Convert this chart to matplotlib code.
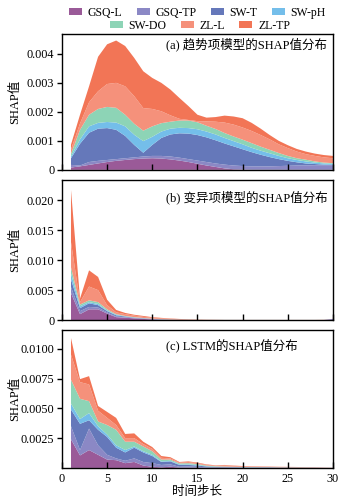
import numpy as np
import matplotlib.pyplot as plt
from matplotlib.patches import Patch

plt.rcParams['font.family'] = ['Liberation Serif', 'Noto Sans CJK SC']
plt.rcParams['axes.unicode_minus'] = False

# ---------------------------------------------------------------------------
# Data: mean |SHAP| per feature and time step
# ---------------------------------------------------------------------------
steps = np.arange(1, 31)
features = ["GSQ-L", "GSQ-TP", "SW-T", "SW-pH", "SW-DO", "ZL-L", "ZL-TP"]
colors = ["#9A5A98", "#8B88C5", "#6578BA", "#74BEEA", "#8DD4B6", "#F5917B", "#F27556"]

# (a) trend-term model, units of 1e-4
a_gsq_l = [0.8, 1.2, 1.7, 2.2, 2.7, 3.1, 3.4, 3.7, 3.9, 4.0, 3.9, 3.6, 3.2, 2.7, 2.1,
           1.5, 1.0, 0.5, 0.2, 0.1, 0.05, 0.05, 0.05, 0.05, 0.05, 0.05, 0.05, 0.05, 0.05, 0.05]
a_gsq_tp = [0.9, 0.3, 1.0, 0.9, 0.7, 0.6, 0.6, 0.6, 0.7, 0.8, 0.9, 1.0, 1.0, 1.0, 1.1,
            1.2, 1.2, 1.3, 1.3, 1.2, 1.15, 1.15, 1.15, 1.25, 1.35, 1.45, 1.45, 1.55, 1.55, 1.55]
a_sw_t = [2.3, 7.5, 10.1, 11.1, 11.0, 10.1, 7.7, 4.3, 1.3, 3.8, 6.2, 7.6, 8.4, 8.8, 8.8,
          8.5, 8.0, 7.3, 6.6, 5.8, 4.9, 4.0, 3.2, 2.4, 1.7, 1.1, 0.7, 0.4, 0.2, 0.1]
a_sw_ph = [0.6, 1.5, 2.2, 2.0, 2.1, 2.5, 3.3, 3.5, 4.0, 2.8, 2.2, 2.0, 1.9, 1.9, 2.0,
           2.0, 2.0, 1.9, 1.8, 1.7, 1.5, 1.4, 1.3, 1.1, 0.9, 0.8, 0.7, 0.5, 0.4, 0.4]
a_sw_do = [0.9, 3.3, 4.0, 4.8, 5.2, 5.1, 4.0, 3.8, 3.6, 3.6, 2.9, 2.4, 2.5, 2.6, 2.4,
           2.0, 1.9, 1.7, 1.6, 1.6, 1.6, 1.4, 1.2, 1.0, 0.8, 0.6, 0.6, 0.4, 0.3, 0.2]
a_zl_l = [1.5, 2.2, 4.3, 6.1, 7.9, 8.6, 9.8, 9.5, 7.8, 6.0, 4.1, 2.2, 0.6, 0.2, 0.4,
          1.5, 2.5, 3.6, 4.1, 4.2, 4.2, 4.0, 3.6, 3.0, 2.7, 2.3, 1.9, 1.9, 1.8, 1.7]
a_zl_tp = [1.7, 3.0, 5.5, 11.9, 13.7, 14.6, 13.9, 13.2, 12.7, 10.7, 9.8, 8.9, 7.2, 4.8, 2.2,
           1.3, 1.6, 2.4, 2.8, 3.2, 2.8, 2.2, 1.5, 1.2, 1.0, 0.9, 0.9, 0.8, 0.8, 0.8]

# (b) variation-term model, units of 1e-3
b_gsq_l = [4.5, 1.0, 1.8, 1.8, 1.1, 0.5, 0.4, 0.3, 0.2, 0.12, 0.08, 0.05, 0.03, 0.02, 0.01,
           0.01, 0.01, 0.0, 0.0, 0.0, 0.0, 0.0, 0.0, 0.0, 0.0, 0.0, 0.0, 0.0, 0.0, 0.0]
b_gsq_tp = [1.0, 0.5, 0.4, 0.3, 0.2, 0.1, 0.1, 0.05, 0.05, 0.03, 0.02, 0.02, 0.02, 0.01, 0.01,
            0.01, 0.01, 0.01, 0.01, 0.01, 0.01, 0.01, 0.01, 0.01, 0.01, 0.01, 0.01, 0.01, 0.03, 0.2]
b_sw_t = [1.3, 0.5, 0.6, 0.4, 0.2, 0.2, 0.1, 0.05, 0.05, 0.05, 0.03, 0.02, 0.01, 0.01, 0.01,
          0.0, 0.0, 0.0, 0.0, 0.0, 0.0, 0.0, 0.0, 0.0, 0.0, 0.0, 0.0, 0.0, 0.0, 0.0]
b_sw_ph = [1.0, 0.3, 0.2, 0.2, 0.1, 0.1, 0.05, 0.05, 0.03, 0.02, 0.02, 0.01, 0.01, 0.01, 0.0,
           0.0, 0.0, 0.0, 0.0, 0.0, 0.0, 0.0, 0.0, 0.0, 0.0, 0.0, 0.0, 0.0, 0.0, 0.0]
b_sw_do = [1.0, 0.3, 0.3, 0.3, 0.2, 0.1, 0.05, 0.05, 0.03, 0.03, 0.02, 0.02, 0.01, 0.01, 0.01,
           0.0, 0.0, 0.0, 0.0, 0.0, 0.0, 0.0, 0.0, 0.0, 0.0, 0.0, 0.0, 0.0, 0.0, 0.0]
b_zl_l = [4.2, 0.4, 2.3, 2.0, 0.7, 0.3, 0.3, 0.25, 0.19, 0.15, 0.13, 0.1, 0.07, 0.04, 0.03,
          0.02, 0.02, 0.01, 0.01, 0.01, 0.01, 0.01, 0.01, 0.01, 0.01, 0.01, 0.01, 0.01, 0.01, 0.01]
b_zl_tp = [8.7, 0.6, 2.7, 2.2, 0.9, 0.4, 0.2, 0.15, 0.15, 0.1, 0.08, 0.06, 0.05, 0.04, 0.03,
           0.02, 0.01, 0.01, 0.01, 0.01, 0.01, 0.01, 0.01, 0.01, 0.01, 0.01, 0.01, 0.01, 0.01, 0.01]

# (c) LSTM, units of 1e-3
c_gsq_l = [2.4, 1.05, 1.5, 1.1, 0.7, 0.65, 0.4, 0.5, 0.2, 0.1, 0.05, 0.1, 0.03, 0.03, 0.02,
           0.01, 0.01, 0.01, 0.01, 0.01, 0.01, 0.01, 0.01, 0.0, 0.0, 0.0, 0.0, 0.0, 0.0, 0.0]
c_gsq_tp = [1.1, 0.45, 1.8, 0.8, 0.4, 0.15, 0.2, 0.3, 0.3, 0.3, 0.2, 0.2, 0.07, 0.09, 0.08,
            0.04, 0.03, 0.02, 0.02, 0.02, 0.02, 0.02, 0.02, 0.02, 0.02, 0.01, 0.01, 0.01, 0.01, 0.01]
c_sw_t = [1.4, 2.2, 0.7, 1.3, 1.5, 0.9, 0.7, 0.9, 0.8, 0.6, 0.25, 0.25, 0.15, 0.13, 0.1,
          0.07, 0.04, 0.04, 0.03, 0.02, 0.02, 0.02, 0.02, 0.01, 0.01, 0.01, 0.01, 0.01, 0.0, 0.0]
c_sw_ph = [0.5, 0.4, 0.6, 0.3, 0.2, 0.2, 0.2, 0.1, 0.1, 0.1, 0.05, 0.05, 0.05, 0.05, 0.05,
           0.03, 0.02, 0.02, 0.02, 0.01, 0.01, 0.01, 0.01, 0.01, 0.01, 0.01, 0.0, 0.0, 0.0, 0.0]
c_sw_do = [2.0, 1.7, 1.0, 0.4, 0.8, 1.3, 0.7, 0.4, 0.4, 0.3, 0.15, 0.1, 0.08, 0.1, 0.07,
           0.05, 0.04, 0.03, 0.02, 0.02, 0.02, 0.01, 0.01, 0.01, 0.01, 0.01, 0.01, 0.0, 0.0, 0.0]
c_zl_l = [2.1, 1.4, 1.4, 0.9, 0.6, 0.4, 0.3, 0.3, 0.2, 0.2, 0.15, 0.1, 0.07, 0.1, 0.08,
          0.06, 0.05, 0.08, 0.07, 0.06, 0.05, 0.05, 0.04, 0.04, 0.03, 0.03, 0.02, 0.02, 0.01, 0.01]
c_zl_tp = [1.4, 0.25, 0.7, 0.4, 0.5, 0.6, 0.35, 0.4, 0.2, 0.15, 0.15, 0.1, 0.05, 0.05, 0.05,
           0.04, 0.03, 0.05, 0.03, 0.02, 0.01, 0.01, 0.01, 0.01, 0.01, 0.01, 0.01, 0.01, 0.01, 0.0]

panels = [
    dict(series=[a_gsq_l, a_gsq_tp, a_sw_t, a_sw_ph, a_sw_do, a_zl_l, a_zl_tp], scale=1e-4,
         title="(a) 趋势项模型的SHAP值分布", title_y=0.92, ylim=0.0047,
         yticks=[0, 0.001, 0.002, 0.003, 0.004],
         ylabels=["0", "0.001", "0.002", "0.003", "0.004"]),
    dict(series=[b_gsq_l, b_gsq_tp, b_sw_t, b_sw_ph, b_sw_do, b_zl_l, b_zl_tp], scale=1e-3,
         title="(b) 变异项模型的SHAP值分布", title_y=0.88, ylim=0.0233,
         yticks=[0, 0.005, 0.010, 0.015, 0.020],
         ylabels=["0", "0.005", "0.010", "0.015", "0.020"]),
    dict(series=[c_gsq_l, c_gsq_tp, c_sw_t, c_sw_ph, c_sw_do, c_zl_l, c_zl_tp], scale=1e-3,
         title="(c) LSTM的SHAP值分布", title_y=0.886, ylim=0.0116,
         yticks=[0.0025, 0.0050, 0.0075, 0.0100],
         ylabels=["0.0025", "0.0050", "0.0075", "0.0100"]),
]

# axes rectangles in figure fraction (left, bottom, width, height)
rects = [(0.176, 0.661, 0.770, 0.272),
         (0.176, 0.361, 0.770, 0.279),
         (0.176, 0.066, 0.770, 0.276)]

fig = plt.figure(figsize=(3.52, 5.01), dpi=100)

for k, (p, rect) in enumerate(zip(panels, rects)):
    ax = fig.add_axes(rect)
    ys = np.array(p["series"]) * p["scale"]
    ax.stackplot(steps, ys, colors=colors, linewidth=0)
    ax.set_xlim(0, 30)
    ax.set_ylim(0, p["ylim"])
    ax.set_xticks([0, 5, 10, 15, 20, 25, 30])
    ax.set_yticks(p["yticks"])
    ax.set_yticklabels(p["ylabels"])
    ax.tick_params(axis="x", direction="in", length=4, width=1, labelsize=8.8)
    ax.tick_params(axis="y", direction="out", length=3.5, width=1, labelsize=8.8, pad=2)
    if k < 2:
        ax.tick_params(axis="x", labelbottom=False)
    else:
        ax.set_xlabel("时间步长", fontsize=9, labelpad=1)
    for sp in ax.spines.values():
        sp.set_linewidth(1)
    ax.set_ylabel("SHAP值", fontsize=9)
    ax.yaxis.set_label_coords(-0.152, 0.5)
    ax.text(0.384, p["title_y"], p["title"], transform=ax.transAxes,
            ha="left", va="center", fontsize=9)

handles = [Patch(facecolor=c, edgecolor="none") for c in colors]
leg_kw = dict(frameon=False, fontsize=8.5, handlelength=1.1, handleheight=0.6,
              handletextpad=0.5, columnspacing=1.2, borderpad=0, borderaxespad=0)
fig.legend(handles[:4], features[:4], ncol=4, loc="center",
           bbox_to_anchor=(0.561, 0.975), **leg_kw)
fig.legend(handles[4:], features[4:], ncol=3, loc="center",
           bbox_to_anchor=(0.568, 0.949), **leg_kw)

fig.savefig("out.png", dpi=100)
